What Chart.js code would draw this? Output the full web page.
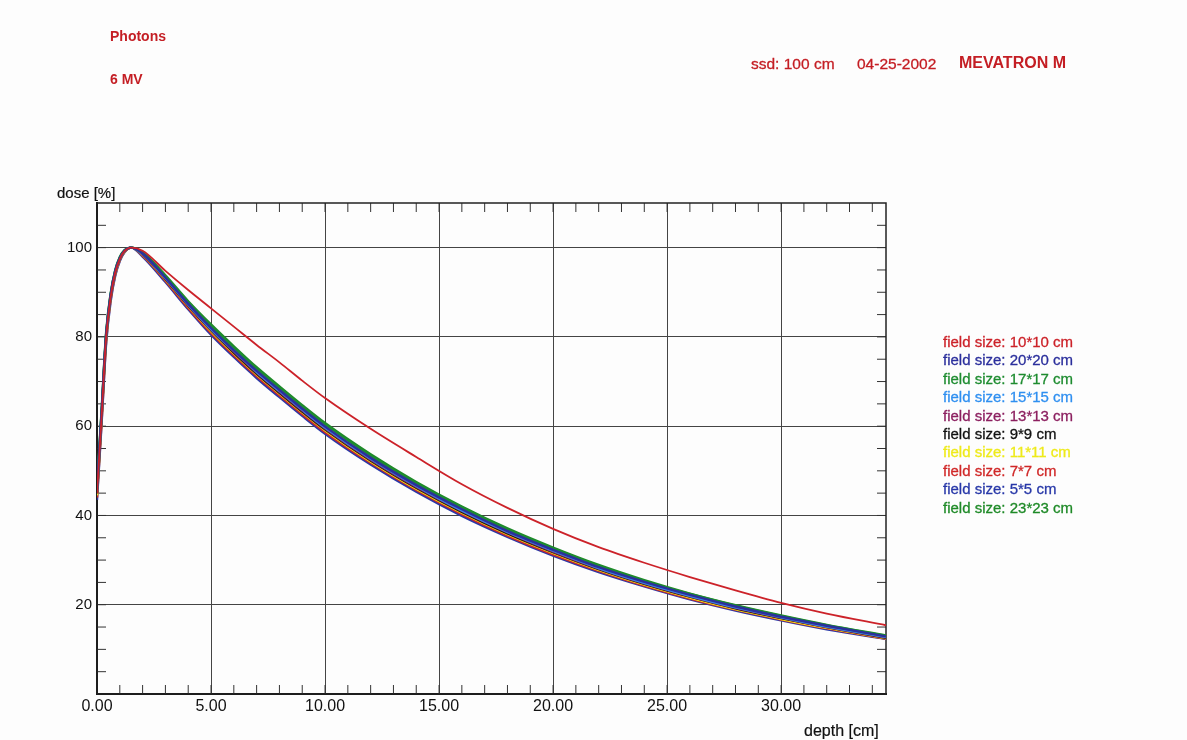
<!DOCTYPE html>
<html>
<head>
<meta charset="utf-8">
<script src="https://cdn.jsdelivr.net/npm/chart.js@4.4.0/dist/chart.umd.min.js"></script>
<style>
body { margin: 0; background: #fdfdfd; }
#wrap { position: relative; width: 1187px; height: 740px; overflow: hidden; font-family: "Liberation Sans", Arial, sans-serif; }
#pdd { position: absolute; left: 0; top: 0; }
.t { position: absolute; white-space: nowrap; line-height: 1; }
.hdr { color: #c41e24; font-weight: bold; font-size: 14px; }
.hdr2 { color: #c41e24; font-size: 15.5px; -webkit-text-stroke: 0.3px #c41e24; }
.hdr3 { color: #c41e24; font-weight: bold; font-size: 16px; }
.ax { color: #111; -webkit-text-stroke: 0.2px #111; }
.leg { font-size: 15px; -webkit-text-stroke: 0.3px; }
</style>
</head>
<body>
<div id="wrap">
  <canvas id="pdd" width="1187" height="740"></canvas>
  <div class="t hdr" style="left:110px;top:29px;">Photons</div>
  <div class="t hdr" style="left:110px;top:72px;">6 MV</div>
  <div class="t hdr2" style="left:751px;top:56px;">ssd: 100 cm</div>
  <div class="t hdr2" style="left:857px;top:56px;">04-25-2002</div>
  <div class="t hdr3" style="left:959px;top:55px;">MEVATRON M</div>
  <div class="t ax" style="left:57px;top:185px;font-size:15px;">dose [%]</div>
  <div class="t ax" style="left:804px;top:723px;font-size:16px;">depth [cm]</div>
  <div id="legend"></div>
</div>
<script>
// depth in cm, dose in %
var depth = [0, 0.2, 0.4, 0.6, 0.8, 1.0, 1.2, 1.5, 2, 3, 4, 5, 6, 7, 8, 9, 10, 12, 14, 16, 18, 20, 22, 24, 26, 28, 30, 32, 34.6];

var fieldSizes = ['10*10', '20*20', '17*17', '15*15', '13*13', '9*9', '11*11', '7*7', '5*5', '23*23'];
var colors = ['#cc2229', '#2b2f9c', '#1e8c30', '#2f8ff0', '#8c2060', '#111111', '#eeea1a', '#d02828', '#2838a8', '#1f8a28'];

var dose10 = [45, 62, 80, 89, 94.5, 97.5, 99.2, 100, 99.3, 94.8, 90.5, 86.4, 82.3, 78.2, 74.3, 70.2, 66.3, 59.4, 53.1, 47.0, 41.7, 37.0, 32.9, 29.4, 26.2, 23.2, 20.4, 18.0, 15.4];
var dose20 = [46, 63, 80.5, 89.5, 94.8, 97.7, 99.3, 100, 98.7, 93.3, 87.4, 82.0, 77.0, 72.4, 68.1, 63.9, 59.9, 52.9, 46.8, 41.4, 36.5, 32.3, 28.4, 25.1, 22.2, 19.6, 17.3, 15.3, 12.9];
var dose17 = [46, 63, 80.5, 89.5, 94.8, 97.8, 99.4, 100, 98.8, 93.6, 87.8, 82.5, 77.6, 72.9, 68.6, 64.4, 60.4, 53.4, 47.2, 41.8, 36.9, 32.6, 28.7, 25.3, 22.4, 19.8, 17.5, 15.4, 13.0];
var dose15 = [45.5, 62.5, 80.3, 89.3, 94.7, 97.6, 99.3, 100, 98.6, 93.2, 87.3, 81.8, 76.9, 72.2, 67.9, 63.7, 59.7, 52.7, 46.6, 41.1, 36.3, 32.1, 28.2, 24.9, 22.0, 19.4, 17.2, 15.1, 12.8];
var dose13 = [45, 62, 80, 89, 94.5, 97.5, 99.2, 100, 98.5, 93.1, 87.1, 81.6, 76.7, 72.0, 67.7, 63.5, 59.5, 52.5, 46.4, 41.0, 36.2, 31.9, 28.1, 24.8, 21.9, 19.3, 17.1, 15.0, 12.7];
var dose9 = [45, 62, 80, 89, 94.5, 97.5, 99.2, 100, 98.5, 93.0, 87.0, 81.5, 76.5, 71.8, 67.5, 63.3, 59.3, 52.3, 46.2, 40.8, 36.0, 31.8, 28.0, 24.7, 21.8, 19.2, 17.0, 15.0, 12.6];
var dose11 = [44.5, 61.5, 79.5, 88.8, 94.3, 97.4, 99.1, 100, 98.4, 92.9, 86.9, 81.3, 76.3, 71.6, 67.3, 63.1, 59.1, 52.1, 46.0, 40.6, 35.8, 31.6, 27.8, 24.5, 21.6, 19.0, 16.8, 14.8, 12.5];
var dose7 = [44, 61, 79, 88.5, 94, 97.2, 99, 100, 98.2, 92.6, 86.5, 80.9, 75.9, 71.2, 66.9, 62.7, 58.7, 51.8, 45.7, 40.3, 35.5, 31.3, 27.6, 24.3, 21.4, 18.9, 16.7, 14.7, 12.4];
var dose5 = [43.5, 60.5, 78.5, 88, 93.7, 97, 98.9, 100, 98.0, 92.3, 86.2, 80.5, 75.5, 70.8, 66.5, 62.3, 58.3, 51.4, 45.3, 39.9, 35.2, 31.0, 27.3, 24.1, 21.2, 18.7, 16.5, 14.5, 12.3];
var dose23 = [46.5, 63.5, 81, 89.8, 95, 97.9, 99.4, 100, 98.9, 93.8, 88.0, 82.8, 77.9, 73.2, 68.9, 64.7, 60.7, 53.7, 47.5, 42.0, 37.1, 32.8, 28.9, 25.5, 22.5, 19.9, 17.6, 15.5, 13.1];

var doses = [dose10, dose20, dose17, dose15, dose13, dose9, dose11, dose7, dose5, dose23];

// legend on the right, one line per field size
var legend = document.getElementById('legend');
fieldSizes.forEach(function (fs, i) {
  var d = document.createElement('div');
  d.className = 't leg';
  d.style.left = '943px';
  d.style.top = (334 + i * 18.4) + 'px';
  d.style.color = colors[i];
  d.textContent = 'field size: ' + fs + ' cm';
  legend.appendChild(d);
});

// small inward ticks on all four sides + frame
var innerTicks = {
  id: 'innerTicks',
  beforeDatasetsDraw: function (chart) {
    var c = chart.ctx, a = chart.chartArea, x = chart.scales.x, y = chart.scales.y;
    c.save();
    c.strokeStyle = '#333';
    c.lineWidth = 1;
    c.beginPath();
    for (var d = 1; d < x.max; d++) {
      var px = x.getPixelForValue(d);
      c.moveTo(px, a.bottom); c.lineTo(px, a.bottom - 9);
      c.moveTo(px, a.top); c.lineTo(px, a.top + 9);
    }
    for (var p = 5; p < y.max; p += 5) {
      var py = y.getPixelForValue(p);
      c.moveTo(a.left, py); c.lineTo(a.left + 9, py);
      c.moveTo(a.right, py); c.lineTo(a.right - 9, py);
    }
    c.stroke();
    c.lineWidth = 1.5;
    c.strokeStyle = '#222';
    c.strokeRect(a.left, a.top, a.right - a.left, a.bottom - a.top);
    c.restore();
  }
};

var datasets = doses.map(function (arr, i) {
  return {
    label: 'field size: ' + fieldSizes[i] + ' cm',
    data: arr.map(function (v, j) { return { x: depth[j], y: v }; }),
    borderColor: colors[i],
    borderWidth: i === 0 ? 1.8 : 2.4,
    fill: false
  };
});

var ctx = document.getElementById('pdd').getContext('2d');
var myChart = new Chart(ctx, {
  type: 'line',
  data: { datasets: datasets },
  options: {
    responsive: false,
    animation: false,
    layout: { padding: { left: 0, top: 203, right: 301, bottom: 0 } },
    plugins: { legend: { display: false }, tooltip: { enabled: false } },
    elements: { point: { radius: 0 }, line: { cubicInterpolationMode: 'monotone' } },
    scales: {
      x: {
        type: 'linear', min: 0, max: 34.6,
        ticks: {
          stepSize: 5, includeBounds: false, autoSkip: false, maxRotation: 0, padding: 3,
          color: '#111', font: { family: '"Liberation Sans", Arial, sans-serif', size: 16 },
          callback: function (v) { return v.toFixed(2); }
        },
        grid: { color: '#444', lineWidth: 1, drawTicks: false },
        border: { color: '#111', width: 2 },
        afterFit: function (s) { s.height = 46; }
      },
      y: {
        min: 0, max: 110,
        ticks: {
          stepSize: 20, includeBounds: false, padding: 5,
          color: '#111', font: { family: '"Liberation Sans", Arial, sans-serif', size: 15 },
          callback: function (v) { return v === 0 ? '' : v; }
        },
        grid: { color: '#444', lineWidth: 1, drawTicks: false },
        border: { color: '#111', width: 2 },
        afterFit: function (s) { s.width = 97; }
      }
    }
  },
  plugins: [innerTicks]
});
</script>
</body>
</html>
